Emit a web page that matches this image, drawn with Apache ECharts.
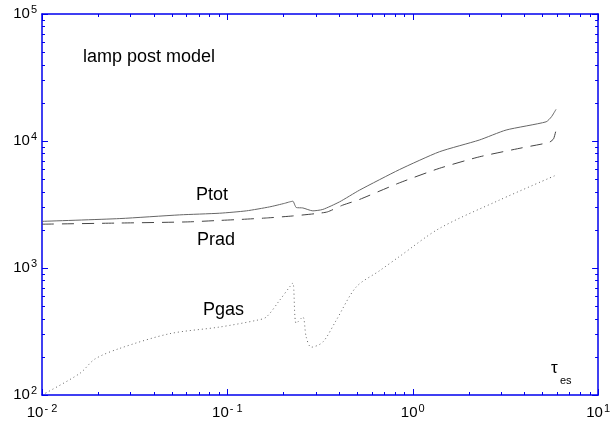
<!DOCTYPE html>
<html><head><meta charset="utf-8">
<script src="https://cdn.jsdelivr.net/npm/echarts@6/dist/echarts.min.js"></script>
<style>html,body{margin:0;padding:0;background:#fff}#c{width:613px;height:423px}</style>
</head><body><div id="c"></div>
<script>
// ---- data ----
const tauPtot = [0.01, 0.0263, 0.0553, 0.0909, 0.1266, 0.169, 0.2035, 0.2165, 0.2256, 0.2353, 0.2553, 0.2891, 0.3272, 0.4025, 0.5159, 0.847, 1.391, 2.284, 3.19, 5.243, 5.6, 5.93];
const ptot    = [2330, 2450, 2620, 2700, 2818, 3029, 3230, 3315, 3356, 2993, 2971, 2818, 2891, 3315, 4100, 5950, 8220, 10170, 12200, 14160, 15500, 17750];

const tauPrad = [0.01, 0.0263, 0.0611, 0.0909, 0.1165, 0.1648, 0.2256, 0.3027, 0.3467, 0.4177, 0.5159, 0.847, 1.391, 2.284, 3.89, 5.44, 5.75, 5.93];
const prad    = [2213, 2260, 2307, 2370, 2410, 2480, 2570, 2685, 2766, 3120, 3463, 4680, 6090, 7500, 8840, 9750, 10400, 12200];

const tauPgas = [0.01, 0.016, 0.0193, 0.0263, 0.0489, 0.0909, 0.1433, 0.1622, 0.1912, 0.2165, 0.2256, 0.2353, 0.2553, 0.2663, 0.2834, 0.3272, 0.3864, 0.4952, 0.661, 0.847, 1.391, 2.927, 5.93];
const pgas    = [100, 148, 192, 233, 304, 343, 387, 411, 556, 708, 762, 366, 411, 286, 238, 261, 387, 708, 950, 1230, 2047, 3420, 5380];

const xMin = 0.01, xMax = 10, yMin = 100, yMax = 100000;
const xDecades = [-2, -1, 0, 1];
const yDecades = [2, 3, 4, 5];
const seriesNames = ['Ptot', 'Prad', 'Pgas'];

// ---- helpers: axes work in log10 space ----
const L = Math.log10;
const X0 = L(xMin), X1 = L(xMax), Y0 = L(yMin), Y1 = L(yMax);
function zip(a, b) { return a.map((v, i) => [L(v), L(b[i])]); }
const AX = '#0000ee';
const FONT = 'Liberation Sans, Arial, sans-serif';
const MAJOR = 6, MINOR = 3;

// tick items: [x, y, length, kind]  kind 0 = x-axis tick, 1 = y-axis tick
function tickItems() {
  const out = [];
  xDecades.forEach(k => {
    out.push([k, Y0, MAJOR, 0]);
    if (k < X1) for (let m = 2; m <= 9; m++) out.push([k + L(m), Y0, MINOR, 0]);
  });
  yDecades.forEach(k => {
    out.push([X0, k, MAJOR, 1]);
    if (k < Y1) for (let m = 2; m <= 9; m++) out.push([X0, k + L(m), MINOR, 1]);
  });
  return out;
}
function seg(x1, y1, x2, y2) {
  return { type: 'line', shape: { x1: x1, y1: y1, x2: x2, y2: y2 }, style: { stroke: AX, lineWidth: 1 } };
}
function renderTick(params, api) {
  const len = api.value(2), kind = api.value(3);
  if (kind === 0) {
    const x = api.value(0);
    const pb = api.coord([x, Y0]), pt = api.coord([x, Y1]);
    const px = Math.round(pb[0]) + 0.5;
    return { type: 'group', children: [seg(px, pb[1], px, pb[1] - len), seg(px, pt[1], px, pt[1] + len)] };
  } else {
    const y = api.value(1);
    const pl = api.coord([X0, y]), pr = api.coord([X1, y]);
    const py = Math.round(pl[1]) + 0.5;
    return { type: 'group', children: [seg(pl[0], py, pl[0] + len, py), seg(pr[0], py, pr[0] - len, py)] };
  }
}

const rich = {
  b: { fontSize: 15, fontFamily: FONT, color: '#000' },
  s: { fontSize: 11, fontFamily: FONT, color: '#000', padding: [0, 0, 9, 1] }
};
function fmt(v) {
  const e = Math.round(v);
  return '{b|10}{s|' + (e < 0 ? '- ' + (-e) : e) + '}';
}
function axis(pos, labels, min, max) {
  return {
    type: 'value', min: min, max: max, interval: 1, position: pos,
    splitLine: { show: false },
    axisLine: { show: true, onZero: false, lineStyle: { color: AX, width: 1.5 } },
    axisTick: { show: false },
    axisLabel: labels ? { show: true, formatter: fmt, rich: rich, margin: (pos === 'bottom') ? 8 : 5 } : { show: false }
  };
}
function txt(text, left, top, size) {
  return { text: text, left: left, top: top, padding: 0,
    textStyle: { fontSize: size || 18, fontWeight: 'normal', fontFamily: FONT, color: '#000' } };
}

const chart = echarts.init(document.getElementById('c'));
chart.setOption({
  animation: false,
  grid: { left: 42, right: 14, top: 14, bottom: 28 },
  xAxis: [axis('bottom', true, X0, X1), axis('top', false, X0, X1)],
  yAxis: [axis('left', true, Y0, Y1), axis('right', false, Y0, Y1)],
  title: [
    txt('lamp post model', 83, 48),
    txt(seriesNames[0], 196, 186),
    txt(seriesNames[1], 197, 231),
    txt(seriesNames[2], 203, 301),
    txt('\u03C4', 551, 360, 17),
    txt('es', 560, 375, 11)
  ],
  series: [
    { name: seriesNames[0], type: 'line', data: zip(tauPtot, ptot), showSymbol: false, smooth: 0.2,
      lineStyle: { color: '#666', width: 1 } },
    { name: seriesNames[1], type: 'line', data: zip(tauPrad, prad), showSymbol: false, smooth: 0.2,
      lineStyle: { color: '#444', width: 1, type: [12, 8] } },
    { name: seriesNames[2], type: 'line', data: zip(tauPgas, pgas), showSymbol: false, smooth: 0.3,
      lineStyle: { color: '#666', width: 1, type: [1, 3] } },
    { name: 'ticks', type: 'custom', data: tickItems(), renderItem: renderTick, silent: true, z: 5 }
  ]
});
</script>
</body></html>
